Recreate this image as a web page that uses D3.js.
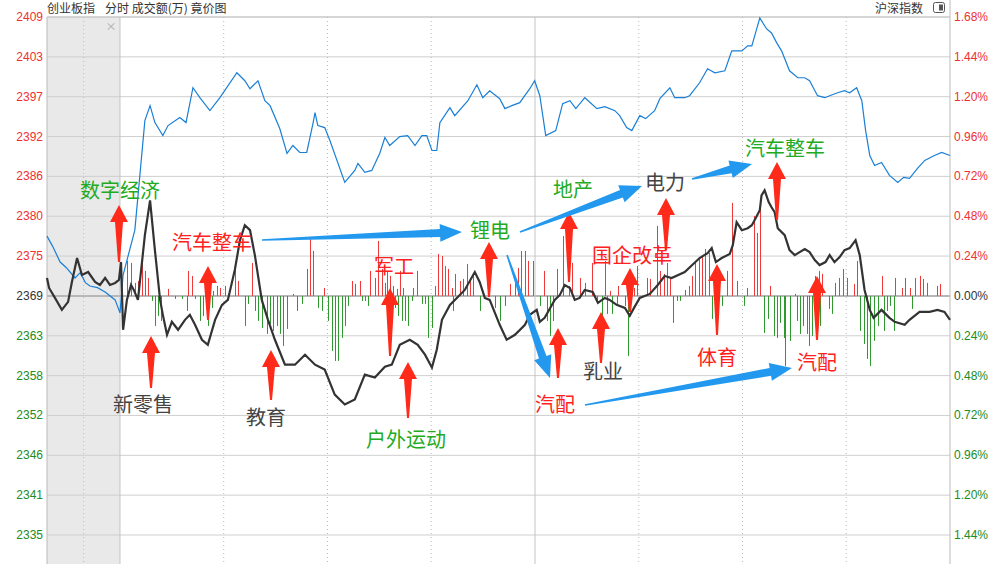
<!DOCTYPE html>
<html><head><meta charset="utf-8">
<script src="https://cdn.jsdelivr.net/npm/d3@7.9.0/dist/d3.min.js"></script>
<style>
body{margin:0;background:#fff;font-family:"Noto Sans CJK SC","DejaVu Sans",sans-serif;}
</style></head><body>
<svg id="chart" width="998" height="564"></svg>
<script>
// minutes from 9:30 (negative = call auction), percent change
const blueLine = [[-21.1,.36],[-19.5,.3],[-17.3,.204],[-15.5,.17],[-13,.108],[-11.5,.14],[-10,.08],[-8.7,.06],[-6.5,.05],[-4.3,.024],[-1.4,-.024],[0,-.102],[.9,.126],[4.3,.396],[7.2,1.056],[8.7,1.146],[10.1,1.044],[12.4,.966],[13.9,1.026],[17.3,1.074],[19.1,1.044],[21.1,1.254],[23.1,1.194],[26,1.116],[28.9,1.194],[33.8,1.344],[36.1,1.296],[37.6,1.248],[39.9,1.296],[41.9,1.176],[43.4,1.146],[46.2,1.008],[48.3,.858],[50,.906],[52,.864],[54,.864],[55.8,1.038],[56.4,1.104],[57.2,1.026],[59.2,1.014],[60.7,.936],[65,.684],[67.9,.756],[68.8,.798],[70.8,.744],[72.8,.756],[75.1,.858],[76.6,.954],[78,.906],[80.9,.96],[83.2,.966],[85.3,.906],[87.3,.966],[88.7,.966],[90.2,.876],[91.6,.876],[92.5,1.044],[95.4,1.134],[96.8,1.086],[100.6,1.176],[103.2,1.272],[104.9,1.194],[106.9,1.236],[109.8,1.188],[111.3,1.128],[113.3,1.146],[115.6,1.164],[118.5,1.248],[119.9,1.296],[121.4,1.206],[123.1,.966],[126,.996],[128,1.158],[130.1,1.176],[131.8,1.128],[134.4,1.194],[137.9,1.128],[140.2,1.14],[143.1,1.116],[144.5,1.086],[146.5,1.014],[148,.996],[150.3,1.086],[152,1.068],[154.6,1.116],[156.1,1.188],[159,1.254],[160.4,1.194],[163.3,1.194],[164.7,1.206],[167.6,1.284],[169.9,1.368],[172,1.344],[174.9,1.356],[176.9,1.476],[179.8,1.476],[181.5,1.506],[182.7,1.506],[184.1,1.608],[185,1.674],[187,1.608],[188.4,1.584],[189.9,1.524],[191.3,1.476],[193.6,1.356],[196,1.314],[198,1.314],[199.4,1.296],[201.7,1.206],[203.8,1.194],[205.2,1.206],[207.5,1.224],[209.5,1.236],[211,1.224],[213,1.254],[214.5,1.176],[215.6,.996],[216.8,.846],[218.2,.786],[220.2,.804],[222.5,.726],[224.9,.684],[226.6,.714],[228.3,.708],[230.6,.768],[232.7,.816],[235.5,.846],[237.6,.864],[240,.846]];

const blackLine = [[-21.1,.108],[-20.5,.048],[-18.8,-.012],[-16.8,-.084],[-15,-.036],[-13.9,.084],[-12.4,.228],[-11,.126],[-9.2,.144],[-7.2,.084],[-5.8,.066],[-4.3,.108],[-2.9,.066],[-1.4,.078],[-.3,.096],[.3,.204],[.9,-.204],[2,-.024],[3.2,.066],[4,.036],[5.2,-.024],[7.2,.366],[8.7,.576],[10.1,.276],[11.6,-.024],[12.4,-.114],[13.6,-.234],[15,-.156],[16.8,-.204],[18.8,-.144],[20.2,-.114],[21.7,-.174],[23.7,-.264],[25.4,-.294],[27.5,-.144],[29.5,-.054],[31.2,-.024],[33.2,.156],[34.7,.336],[36.1,.426],[37.6,.396],[39,.246],[41,-.024],[42.8,-.144],[44.8,-.264],[47.7,-.414],[50.6,-.414],[53.5,-.354],[56.4,-.414],[59.2,-.444],[62.1,-.594],[65,-.654],[67.9,-.624],[70.8,-.474],[73.7,-.492],[76.6,-.426],[78.6,-.414],[80.9,-.294],[83.8,-.264],[86.1,-.294],[88.2,-.354],[90.2,-.432],[91.6,-.324],[93.1,-.144],[95.4,-.054],[97.4,-.012],[99.7,.036],[102.6,.144],[104,.084],[105.5,-.012],[106.9,-.024],[109.8,-.174],[111.8,-.264],[114.2,-.234],[117.1,-.174],[118.5,-.114],[120.5,-.084],[121.4,-.156],[122.8,-.132],[125.7,-.024],[127.2,.006],[128.6,.066],[130.1,.048],[131.5,-.024],[132.9,-.012],[134.4,.036],[136.7,.024],[138.2,-.042],[140.2,-.012],[141.6,-.024],[143.6,-.054],[146,-.072],[147.4,-.12],[148.8,-.066],[150.3,-.012],[153.2,.012],[155.5,.066],[157.5,.12],[159.5,.108],[163.3,.144],[167.6,.228],[169.9,.258],[171.1,.288],[172.3,.204],[174,.228],[176.3,.252],[177.2,.306],[178.3,.444],[179.8,.396],[181.5,.408],[182.7,.426],[183.8,.468],[185,.516],[185.5,.606],[186.4,.636],[187.6,.564],[188.4,.534],[189.3,.504],[190.2,.408],[192.2,.366],[193.6,.276],[195.1,.246],[198,.282],[199.4,.264],[200.9,.216],[202.3,.186],[204,.204],[205.2,.246],[206.6,.204],[208.1,.234],[209.5,.276],[211,.288],[212.7,.336],[213.9,.246],[215.3,.036],[216.8,-.084],[217.9,-.132],[220.2,-.084],[222.5,-.132],[224,-.156],[226.9,-.174],[228.3,-.144],[231.2,-.096],[234.1,-.096],[236.4,-.084],[238.4,-.096],[240,-.144]];

// net turnover bars: [minute, value]
const upBars = [[2.1,35],[3.1,33],[4.3,13],[5.3,15],[6.3,43],[7.2,25],[8.2,18],[14,7],[19.8,25],[20.7,20],[27,5],[28,10],[28.9,8],[30.4,10],[33.3,30],[34.2,15],[38.1,33],[50,2],[54,27],[55,57],[55.9,45],[59,8],[67,15],[68,12],[69.4,15],[72.3,25],[73.7,18],[74.7,55],[75.7,27],[76.6,13],[77.1,25],[78.1,20],[79,10],[80,7],[81,25],[81.9,8],[84.8,8],[85.8,25],[91.1,10],[92,42],[93,40],[94,30],[94.9,27],[95.9,8],[96.9,22],[98.3,15],[99.3,17],[100.2,32],[101.2,18],[102.2,20],[112.8,12],[114.2,13],[115.2,28],[116.1,45],[117.1,45],[118.1,35],[119.4,35],[122.5,25],[126.3,27],[128.2,60],[129.7,10],[130.6,33],[133.1,18],[134.5,13],[136.4,33],[140.3,35],[141.7,5],[144.1,10],[146.6,15],[148.5,8],[149.4,30],[152.3,18],[153.3,17],[155.2,70],[156.2,25],[157.2,22],[158.1,33],[159.1,18],[163.4,6],[164.4,10],[165.3,20],[166.3,35],[167.3,38],[168.2,40],[169.2,47],[170.2,43],[175.5,25],[176.9,93],[178.4,15],[181.3,8],[183.2,80],[184.1,63],[185.1,92],[188,10],[195.2,2],[201,20],[202,25],[202.9,22],[206.8,13],[207.8,18],[209.2,27],[210.2,18],[212.1,12],[213.1,35],[220.3,20],[224.1,18],[226.1,8],[227,18],[228.5,8],[229.9,18],[231.4,20],[232.3,17],[233.3,13],[236.2,10],[237.2,12]];
const downBars = [[9.2,5],[10.1,30],[11.1,20],[12,25],[15.9,3],[17.8,3],[19.3,15],[21.7,3],[23.1,25],[24.1,20],[25.5,30],[26.5,12],[36.1,30],[37.1,8],[39,15],[40,25],[41,32],[42.4,38],[43.4,28],[44.3,35],[45.3,30],[46.3,38],[47.2,50],[48.2,33],[51.1,15],[52.5,8],[57.3,12],[58.3,15],[60.2,25],[61.2,55],[62.2,65],[63.1,65],[64.1,42],[65.1,30],[66,10],[69.9,5],[70.8,5],[71.8,10],[77.6,15],[79.5,12],[80.5,20],[81.5,25],[82.4,25],[83.4,30],[84.3,5],[87.2,8],[88.2,8],[89.2,42],[90.1,32],[96.4,15],[104.1,15],[108.4,12],[109.9,25],[111.3,10],[121.5,10],[123.4,25],[124.4,40],[125.3,25],[137.9,5],[139.3,25],[140.8,18],[142.2,18],[143.7,8],[146.1,10],[147,60],[160,27],[161,5],[162,5],[171.1,23],[172.1,12],[174,10],[180.3,10],[186.1,37],[187.5,23],[189,40],[189.9,42],[190.9,27],[191.9,42],[192.3,70],[193.8,45],[195.7,25],[196.7,38],[197.6,30],[198.6,38],[199.1,50],[200,40],[202.5,30],[204.9,13],[205.8,18],[214,35],[215,48],[216,63],[216.9,70],[217.9,45],[219.3,30],[220.8,35],[221.7,15],[222.7,10],[223.7,35],[229,13]];

const leftTicks = ['2409','2403','2397','2392','2386','2380','2375','2369','2363','2358','2352','2346','2341','2335'];
const rightTicks = ['1.68%','1.44%','1.20%','0.96%','0.72%','0.48%','0.24%','0.00%','0.24%','0.48%','0.72%','0.96%','1.20%','1.44%'];
const pctTicks = [1.68,1.44,1.2,.96,.72,.48,.24,0,-.24,-.48,-.72,-.96,-1.2,-1.44];
const timeLines = [-10.5,0,30,60,90,120,150,180,210];

// labels [text, x, y, color]
const labels = [
  ['数字经济',80,198,'#22aa22'],['新零售',113,412,'#444'],['汽车整车',172,250,'#ff2020'],
  ['教育',246,425,'#444'],['军工',374,274,'#ff2020'],['户外运动',366,447,'#22aa22'],
  ['锂电',470,238,'#22aa22'],['地产',553,197,'#22aa22'],['电力',645,190,'#444'],
  ['汽车整车',745,156,'#22aa22'],['国企改革',592,263,'#ff2020'],['乳业',583,379,'#444'],
  ['汽配',535,412,'#ff2020'],['体育',697,365,'#ff2020'],['汽配',797,370,'#ff2020']];
// red arrows [x, tipY, baseY]
const redArrows = [[119,205,262],[151,336,388],[208,266,320],[271,350,400],[390,288,356],[408,362,418],
  [489,242,297],[558,328,378],[569,212,282],[601,312,363],[630,268,312],[666,198,250],[717,264,335],[777,162,220],[817,276,340]];
// blue arrows [x0,y0,x1,y1]
const blueArrows = [[262,240,462,232],[520,232,642,186],[692,179,752,164],[507,255,550,378],[585,405,792,368]];

const svg = d3.select('#chart');
const L = 47, R = 950, T = 17;
const x = d3.scaleLinear().domain([-21.1, 240]).range([L, R]);
const y = d3.scaleLinear().domain([1.68, -1.44]).range([T, 535]);
const barH = d3.scaleLinear().domain([0, 70]).range([0, 70]);

svg.append('rect').attr('x', L).attr('y', T).attr('width', x(0) - L).attr('height', 564 - T).attr('fill', '#e9e9e9');
svg.append('text').attr('x', 111).attr('y', 31).attr('font-size', 11).attr('fill', '#aaa').attr('text-anchor', 'middle').text('×');

// horizontal grid
svg.append('g').selectAll('line').data(pctTicks).join('line')
  .attr('x1', L).attr('x2', R).attr('y1', d => y(d)).attr('y2', d => y(d))
  .attr('stroke', d => d === 0 ? '#b8b8b8' : '#cfcfcf').attr('stroke-width', d => d === 0 ? 2 : 1);
// vertical grid
svg.append('g').selectAll('line').data(timeLines).join('line')
  .attr('x1', d => x(d)).attr('x2', d => x(d)).attr('y1', T).attr('y2', 564)
  .attr('stroke', d => (d === 0 || d === 120) ? '#c4c4c4' : '#bbb')
  .attr('stroke-dasharray', d => (d === 0 || d === 120) ? null : '1,3');
svg.append('line').attr('x1', L).attr('x2', L).attr('y1', T).attr('y2', 564).attr('stroke', '#bbb');
svg.append('line').attr('x1', R).attr('x2', R).attr('y1', 0).attr('y2', 564).attr('stroke', '#bbb');
svg.append('line').attr('x1', L).attr('x2', R).attr('y1', T).attr('y2', T).attr('stroke', '#c4c4c4');

// axes labels
const colorFor = d => d > 0 ? '#f03030' : d < 0 ? '#228b22' : '#333';
svg.append('g').selectAll('text').data(pctTicks).join('text')
  .attr('x', 43).attr('y', d => y(d) + 4).attr('text-anchor', 'end').attr('font-size', 12)
  .attr('font-family', 'Liberation Sans, Arial').attr('fill', colorFor).text((d, i) => leftTicks[i]);
svg.append('g').selectAll('text').data(pctTicks).join('text')
  .attr('x', 954).attr('y', d => y(d) + 4).attr('font-size', 12)
  .attr('font-family', 'Liberation Sans, Arial').attr('fill', colorFor).text((d, i) => rightTicks[i]);

// bars
const y0 = y(0);
svg.append('g').selectAll('line').data(upBars).join('line')
  .attr('x1', d => Math.round(x(d[0])) + .5).attr('x2', d => Math.round(x(d[0])) + .5)
  .attr('y1', y0).attr('y2', d => y0 - barH(d[1])).attr('stroke', '#f03a3a');
svg.append('g').selectAll('line').data(downBars).join('line')
  .attr('x1', d => Math.round(x(d[0])) + .5).attr('x2', d => Math.round(x(d[0])) + .5)
  .attr('y1', y0).attr('y2', d => y0 + barH(d[1])).attr('stroke', '#2e9a2e');

// lines
const line = d3.line().x(d => x(d[0])).y(d => y(d[1]));
svg.append('path').datum(blueLine).attr('d', line).attr('fill', 'none').attr('stroke', '#1a7fd6').attr('stroke-width', 1.2);
svg.append('path').datum(blackLine).attr('d', line).attr('fill', 'none').attr('stroke', '#333').attr('stroke-width', 2.2);

// header
svg.append('text').attr('x', 47).attr('y', 13).attr('font-size', 12).attr('fill', '#333').text('创业板指');
svg.append('text').attr('x', 105).attr('y', 13).attr('font-size', 12).attr('fill', '#333').text('分时 成交额(万) 竟价图');
svg.append('text').attr('x', 923).attr('y', 13).attr('font-size', 12).attr('fill', '#333').attr('text-anchor', 'end').text('沪深指数');
svg.append('rect').attr('x', 933.5).attr('y', 2.5).attr('width', 11).attr('height', 10).attr('rx', 2).attr('fill', '#fff').attr('stroke', '#555');
svg.append('rect').attr('x', 939).attr('y', 4.5).attr('width', 4).attr('height', 6).attr('fill', '#555');

// arrows
function arrowPath(x0, y0, x1, y1, w0, w1, hw, hl) {
  const dx = x1 - x0, dy = y1 - y0, len = Math.hypot(dx, dy);
  const ux = dx / len, uy = dy / len, nx = -uy, ny = ux;
  const bx = x1 - ux * hl, by = y1 - uy * hl;
  const p = [[x0 + nx * w0, y0 + ny * w0], [bx + nx * w1, by + ny * w1], [bx + nx * hw, by + ny * hw], [x1, y1],
    [bx - nx * hw, by - ny * hw], [bx - nx * w1, by - ny * w1], [x0 - nx * w0, y0 - ny * w0]];
  return 'M' + p.map(q => q.join(',')).join('L') + 'Z';
}
svg.append('g').selectAll('path').data(redArrows).join('path')
  .attr('d', d => arrowPath(d[0], d[2], d[0], d[1], 1, 4, 9, 17)).attr('fill', '#ff2a1a');
svg.append('g').selectAll('path').data(blueArrows).join('path')
  .attr('d', d => arrowPath(d[0], d[1], d[2], d[3], .8, 4, 9, 22)).attr('fill', '#2299ee');

svg.append('g').selectAll('text').data(labels).join('text')
  .attr('x', d => d[1]).attr('y', d => d[2]).attr('font-size', 20).attr('fill', d => d[3]).text(d => d[0]);
</script></body></html>
